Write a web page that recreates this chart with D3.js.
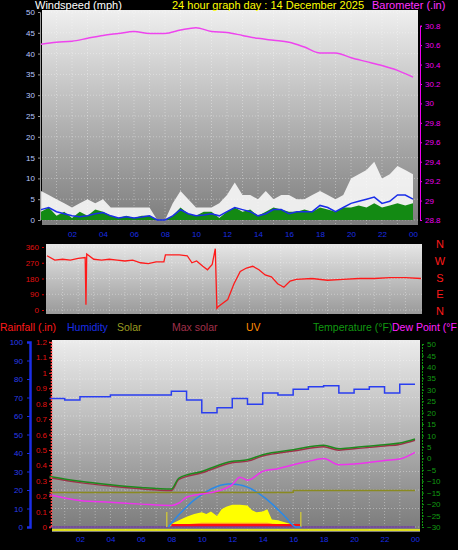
<!DOCTYPE html>
<html><head><meta charset="utf-8">
<script src="https://cdn.jsdelivr.net/npm/d3@7"></script>
<style>body{margin:0;background:#000}svg{display:block;font-family:"Liberation Sans",Arial,sans-serif}</style>
</head><body><div id="container"></div>
<script>
let w = 458, h = 550;

// DATA (hours 0..24)
let halfHours = d3.range(0, 24.01, 0.5);
let gust = [7,6,5,4,3,4,5,4,5,3,3,3,3,3,3,0,0,4,7,5,3,3,3,4,6,9,6,6,5,7,5,6,6,5,5,6,7,6,5,6,10,11,12,14,10,11,13,12,11];
let windAvg = [2.5,3,2,1.5,1,0.8,1,1.5,1.8,1,0.5,0.8,0.5,0.7,1,0,0,1,2.5,1.5,1,1.2,1.5,1,2,3,2.5,2,1,1.5,2.5,2.5,1.5,2,2,2,3.5,3,2,3,4,4.5,5,5.5,4,4.5,6,6,5];
let windSpd = [2,3,1,2,0.5,2,1,2.5,2,1,0.5,1,0.5,1,1,0,0,1,3,1.5,1,2,2,0.5,2,3,2,2.5,1,2,3,2.5,2,2,2.5,2,3,2.5,2,3,3,3.5,3,4,3,3.5,4,3.5,4];
let baroHours = d3.range(0, 25);
let baro = [30.61,30.63,30.64,30.67,30.70,30.72,30.74,30.72,30.72,30.755,30.78,30.74,30.73,30.70,30.67,30.65,30.63,30.58,30.52,30.52,30.47,30.43,30.39,30.34,30.27];
let dirHours = [0,0.5,1,1.5,2,2.45,2.5,2.55,3,3.5,4,4.5,5,5.5,6,6.5,7,7.5,7.6,8,8.5,9,9.3,9.6,10,10.3,10.6,10.8,10.9,11,11.3,11.6,12,12.4,12.8,13.2,13.6,14,14.4,14.8,15.2,15.6,16,17,18,19,20,21,22,23,24];
let windDir = [310,285,290,285,295,300,30,320,290,285,290,285,280,285,270,265,275,275,315,315,315,310,270,280,250,230,260,350,10,20,40,60,150,220,240,250,230,200,190,150,130,165,175,180,170,175,180,180,185,185,180];
let humHours = [0,1,2,4,8,9,10,11,12,13,14,15,16,17,18,19,20,21,22,23,24];
let humidity = [69.5,68.6,70.4,71.3,73.4,68.6,61.8,64.5,69.5,66.4,72.5,71.3,74.5,75.8,76.3,72.5,74.5,75.8,72.5,77.2,77.2];
let tHours = [0,2,4,6,8,8.5,10,12,13,14,16,18,19,20,22,23,24];
let temperature = [-7.9,-10,-11.5,-12.7,-13.4,-8.6,-5.7,-1.3,-0.6,1.6,3.8,5.7,4.2,4.8,6,6.7,8.5];
let feelsLike = [-8.5,-10.6,-12.1,-13.3,-14,-9.2,-6.3,-1.9,-1.2,1,3.2,5.1,3.6,4.2,5.4,6.1,7.9];
let dpHours = [0,2,4,6,8,8.5,9,10,11,12,12.5,13,14,15,16,17,18,19,20,21,22,23,24];
let dewPoint = [-15.9,-18.4,-19.2,-20,-20.6,-19.5,-17,-15.6,-14.4,-11.5,-8.2,-9.6,-5.7,-4.5,-2.8,-1.3,-0.1,-2.8,-2.5,-1.8,-0.9,-0.3,2.6];
let solarHours = [7.8,8,8.5,9,9.5,10,10.3,10.6,11,11.3,11.6,12,12.5,13,13.3,13.6,14,14.3,14.6,15,15.5,16,16.5];
let solar = [0,8,18,28,35,40,35,42,30,48,55,60,60,58,45,40,42,48,20,18,12,6,0];
let uv = [0,2,4,6,8,10,10,10,10,10,10,10,10,10,10,10,10,10,8,6,4,2,0];
let maxSolarHours = d3.range(7.8, 16.51, 0.3);
let maxSolarPeak = [0,15,29,42,54,66,76,85,93,100,106,111,114,116,116,115,113,109,104,97,89,80,70,59,47,35,22,8,0,0];
let sunrise = 7.7, sunset = 16.5;
let solarLevel = [[0,-14.9],[16,-14.9],[16,-14],[24,-14]];
let windTicks = d3.range(0, 51, 5);
let baroTicks = [28.8,29,29.2,29.4,29.6,29.8,30,30.2,30.4,30.6,30.8];
let dirTicks = [0,90,180,270,360];
let compass = ["N","W","S","E","N"];
let humTicks = d3.range(0, 101, 10);
let rainTicks = [0,0.1,0.2,0.3,0.4,0.5,0.6,0.7,0.8,0.9,1,1.1,1.2];
let tempTicks = d3.range(-30, 51, 5);
let hourTicks = [2,4,6,8,10,12,14,16,18,20,22,24];

let viz = d3.select("#container").append("svg").attr("width", w).attr("height", h);
let defs = viz.append("defs");
function grad(id, top, bottom) {
  let g = defs.append("linearGradient").attr("id", id).attr("x1", 0).attr("y1", 0).attr("x2", 0).attr("y2", 1);
  g.append("stop").attr("offset", 0).attr("stop-color", top);
  g.append("stop").attr("offset", 1).attr("stop-color", bottom);
}
grad("g1", "#efefef", "#7c7c7c");
grad("g2", "#e6e6e6", "#9a9a9a");
grad("g3", "#ececec", "#7a7a7a");
let fmtH = d => d3.format("02")(d % 24);

function panel(x0, x1, y0, y1, fill, xs, ys) {
  viz.append("rect").attr("x", x0).attr("y", y0).attr("width", x1 - x0).attr("height", y1 - y0).attr("fill", "url(#" + fill + ")");
  let g = viz.append("g");
  g.selectAll(".vg").data(d3.range(1, 24)).enter().append("line")
    .attr("x1", d => xs(d)).attr("x2", d => xs(d)).attr("y1", y0).attr("y2", y1)
    .attr("stroke", "#fff").attr("stroke-opacity", 0.35).attr("stroke-dasharray", "1,2");
  g.selectAll(".hg").data(ys).enter().append("line")
    .attr("x1", x0).attr("x2", x1).attr("y1", d => d).attr("y2", d => d)
    .attr("stroke", "#fff").attr("stroke-opacity", 0.35).attr("stroke-dasharray", "1,2");
}

// ---------- PANEL 1: wind + barometer
let x1 = d3.scaleLinear().domain([0, 24]).range([41, 413]);
let yW = d3.scaleLinear().domain([0, 50]).range([220, 12]);
let yB = d3.scaleLinear().domain([28.8, 30.8]).range([220, 25.7]);
panel(42, 418, 10, 225, "g1", x1, windTicks.map(yW));
viz.append("path").datum(gust).attr("fill", "#fff").attr("fill-opacity", 0.85)
  .attr("d", d3.area().x((d, i) => x1(halfHours[i])).y0(yW(0)).y1(d => yW(d)));
viz.append("path").datum(windSpd).attr("fill", "#138a13")
  .attr("d", d3.area().x((d, i) => x1(halfHours[i])).y0(yW(0)).y1(d => yW(d)));
viz.append("path").datum(windAvg).attr("fill", "none").attr("stroke", "#1a2ee8").attr("stroke-width", 1.5)
  .attr("d", d3.line().x((d, i) => x1(halfHours[i])).y(d => yW(d)));
viz.append("path").datum(baro).attr("fill", "none").attr("stroke", "#ee44ee").attr("stroke-width", 1.5)
  .attr("d", d3.line().x((d, i) => x1(baroHours[i])).y(d => yB(d)).curve(d3.curveMonotoneX));
viz.append("g").attr("transform", "translate(40,0)")
  .call(d3.axisLeft(yW).tickValues(windTicks).tickSize(2).tickPadding(3))
  .call(g => { g.select(".domain").attr("stroke", "#999"); g.selectAll("line").attr("stroke", "#999");
    g.selectAll("text").attr("fill", "#b8c8ff").attr("font-size", 8); });
viz.append("g").attr("transform", "translate(420,0)")
  .call(d3.axisRight(yB).tickValues(baroTicks).tickSize(2).tickPadding(3).tickFormat(d3.format("")))
  .call(g => { g.select(".domain").attr("stroke", "#ee00ee"); g.selectAll("line").attr("stroke", "#ee00ee");
    g.selectAll("text").attr("fill", "#ee00ee").attr("font-size", 8); });
viz.append("g").attr("transform", "translate(0,225)")
  .call(d3.axisBottom(x1).tickValues(hourTicks).tickSize(0).tickPadding(6).tickFormat(fmtH))
  .call(g => { g.select(".domain").remove(); g.selectAll("text").attr("fill", "#1a2ee8").attr("font-size", 8); });
viz.append("text").attr("x", 35).attr("y", 9).attr("fill", "#fff").attr("font-size", 11).text("Windspeed (mph)");
viz.append("text").attr("x", 172).attr("y", 9).attr("fill", "#ffff00").attr("font-size", 11).text("24 hour graph day : 14 December 2025");
viz.append("text").attr("x", 372).attr("y", 9).attr("fill", "#ff33ff").attr("font-size", 11).text("Barometer (.in)");

// ---------- PANEL 2: wind direction
let x2 = d3.scaleLinear().domain([0, 24]).range([47, 421]);
let yD = d3.scaleLinear().domain([0, 360]).range([310, 247]);
panel(46, 422, 244, 314, "g2", x2, dirTicks.map(yD));
viz.append("path").datum(windDir).attr("fill", "none").attr("stroke", "#ff1a1a").attr("stroke-width", 1.3)
  .attr("d", d3.line().x((d, i) => x2(dirHours[i])).y(d => yD(d)));
viz.append("g").attr("transform", "translate(44,0)")
  .call(d3.axisLeft(yD).tickValues(dirTicks).tickSize(2).tickPadding(3))
  .call(g => { g.select(".domain").remove(); g.selectAll("line").attr("stroke", "#d00");
    g.selectAll("text").attr("fill", "#e01010").attr("font-size", 8); });
viz.selectAll(".cmp").data(compass).enter().append("text")
  .attr("x", 440).attr("y", (d, i) => 248 + i * 16.8).attr("fill", "#ff1a1a").attr("font-size", 11)
  .attr("text-anchor", "middle").text(d => d);

// ---------- legend
let legend = [["Rainfall (.in)", "#ff1a1a", 0], ["Humidity", "#1a2ee8", 67], ["Solar", "#9a9a20", 117],
  ["Max solar", "#a0304a", 172], ["UV", "#ff8c00", 246], ["Temperature (°F)", "#119911", 313], ["Dew Point (°F", "#ff22ff", 392]];
viz.selectAll(".lg").data(legend).enter().append("text")
  .attr("x", d => d[2]).attr("y", 331).attr("fill", d => d[1]).attr("font-size", 10.5).text(d => d[0]);

// ---------- PANEL 3
let x3 = d3.scaleLinear().domain([0, 24]).range([49.5, 415]);
let yH = d3.scaleLinear().domain([0, 100]).range([527, 342]);
let yR = d3.scaleLinear().domain([0, 1.2]).range([527, 342]);
let yT = d3.scaleLinear().domain([-30, 50]).range([527, 344]);
let yS = d3.scaleLinear().domain([0, 500]).range([527, 342]);
panel(52, 420, 340, 532, "g3", x3, humTicks.map(yH));
// solar + UV
viz.append("path").datum(solar).attr("fill", "#ffff00")
  .attr("d", d3.area().x((d, i) => x3(solarHours[i])).y0(yS(0)).y1(d => yS(d)));
viz.append("path").datum(uv).attr("fill", "none").attr("stroke", "#ff9a20").attr("stroke-width", 1.2)
  .attr("d", d3.line().x((d, i) => x3(solarHours[i])).y(d => yS(d)));
viz.append("rect").attr("x", x3(8)).attr("y", yS(0) - 3).attr("width", x3(16.5) - x3(8)).attr("height", 3).attr("fill", "#ff1010");
viz.append("line").attr("x1", x3(0)).attr("x2", x3(24)).attr("y1", yS(0)).attr("y2", yS(0)).attr("stroke", "#7040a0").attr("stroke-width", 1.5);
viz.append("line").attr("x1", 52).attr("x2", 420).attr("y1", 530).attr("y2", 530).attr("stroke", "#ffff00").attr("stroke-width", 1.5);
viz.selectAll(".sun").data([sunrise, sunset]).enter().append("line")
  .attr("x1", d => x3(d)).attr("x2", d => x3(d)).attr("y1", 512).attr("y2", 527).attr("stroke", "#c8c040").attr("stroke-width", 1.5);
viz.append("path").datum(maxSolarPeak).attr("fill", "none").attr("stroke", "#2a8ae8").attr("stroke-width", 1.5)
  .attr("d", d3.line().x((d, i) => x3(maxSolarHours[i])).y(d => yS(d)).curve(d3.curveMonotoneX));
viz.append("path").datum(solarLevel).attr("fill", "none").attr("stroke", "#8a8a20").attr("stroke-width", 1.5)
  .attr("d", d3.line().x(d => x3(d[0])).y(d => yT(d[1])));
// humidity
viz.append("path").datum(humidity).attr("fill", "none").attr("stroke", "#2a3ef0").attr("stroke-width", 1.5)
  .attr("d", d3.line().x((d, i) => x3(humHours[i])).y(d => yH(d)).curve(d3.curveStepAfter));
// temps
viz.append("path").datum(feelsLike).attr("fill", "none").attr("stroke", "#a0304a").attr("stroke-width", 1.5)
  .attr("d", d3.line().x((d, i) => x3(tHours[i])).y(d => yT(d)).curve(d3.curveMonotoneX));
viz.append("path").datum(temperature).attr("fill", "none").attr("stroke", "#1f8a1f").attr("stroke-width", 1.5)
  .attr("d", d3.line().x((d, i) => x3(tHours[i])).y(d => yT(d)).curve(d3.curveMonotoneX));
viz.append("path").datum(dewPoint).attr("fill", "none").attr("stroke", "#ee33ee").attr("stroke-width", 1.5)
  .attr("d", d3.line().x((d, i) => x3(dpHours[i])).y(d => yT(d)).curve(d3.curveMonotoneX));
// axes
viz.append("g").attr("transform", "translate(30,0)")
  .call(d3.axisLeft(yH).tickValues(humTicks).tickSize(3).tickPadding(4))
  .call(g => { g.select(".domain").attr("stroke", "#1a2ee8").attr("stroke-width", 2.5); g.selectAll("line").attr("stroke", "#1a2ee8");
    g.selectAll("text").attr("fill", "#2a3ef0").attr("font-size", 8); });
viz.append("g").attr("transform", "translate(51,0)")
  .call(d3.axisLeft(yR).tickValues(rainTicks).tickSize(2).tickPadding(2).tickFormat(d3.format("")))
  .call(g => { g.select(".domain").attr("stroke", "#ff4040").attr("stroke-dasharray", "2,1").attr("stroke-width", 1.5);
    g.selectAll("line").attr("stroke", "#ff3030");
    g.selectAll("text").attr("fill", "#e01010").attr("font-size", 8); });
viz.append("g").attr("transform", "translate(422,0)")
  .call(d3.axisRight(yT).tickValues(tempTicks).tickSize(2).tickPadding(3))
  .call(g => { g.select(".domain").attr("stroke", "#119911").attr("stroke-dasharray", "2,1"); g.selectAll("line").attr("stroke", "#119911");
    g.selectAll("text").attr("fill", "#119911").attr("font-size", 8); });
viz.append("g").attr("transform", "translate(0,532)")
  .call(d3.axisBottom(x3).tickValues(hourTicks).tickSize(0).tickPadding(4).tickFormat(fmtH))
  .call(g => { g.select(".domain").remove(); g.selectAll("text").attr("fill", "#1a2ee8").attr("font-size", 8); });
</script>
</body></html>
